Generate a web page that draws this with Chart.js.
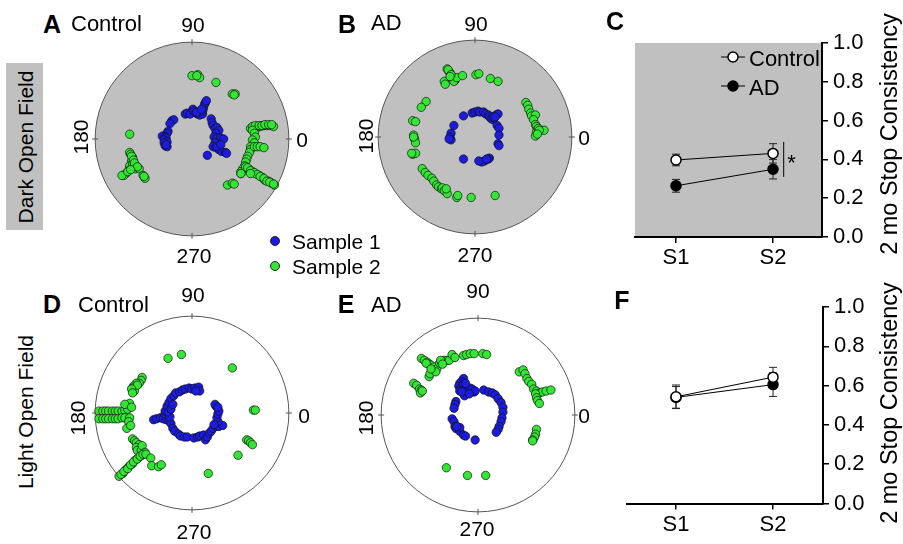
<!DOCTYPE html>
<html><head><meta charset="utf-8">
<script src="https://cdn.jsdelivr.net/npm/chart.js@4"></script>
<style>
body{margin:0;width:903px;height:544px;background:#fff;position:relative;overflow:hidden;font-family:"Liberation Sans",Arial,sans-serif;color:#000;}
canvas{position:absolute;}
.t{position:absolute;white-space:nowrap;line-height:1;transform:translate(-50%,-50%);}
.l{position:absolute;white-space:nowrap;line-height:1;transform:translate(0,-50%);}
.r{position:absolute;white-space:nowrap;line-height:1;transform:translate(-50%,-50%) rotate(-90deg);}
.b{font-weight:bold;font-size:25px;}
.a{font-size:21px;}
.dot{position:absolute;width:8px;height:8px;border-radius:50%;border:1px solid #222;transform:translate(-50%,-50%);}
</style>
</head><body>
<div style="position:absolute;left:6px;top:63px;width:37px;height:167px;background:#c0c0c0;"></div>
<canvas id="pA" width="240" height="240" style="left:72px;top:19px;width:240px;height:240px"></canvas>
<canvas id="pB" width="240" height="240" style="left:355px;top:17px;width:240px;height:240px"></canvas>
<canvas id="pD" width="240" height="240" style="left:72px;top:293px;width:240px;height:240px"></canvas>
<canvas id="pE" width="240" height="240" style="left:358px;top:295px;width:240px;height:240px"></canvas>
<canvas id="cC" width="303" height="270" style="left:600px;top:20px;width:303px;height:270px"></canvas>
<canvas id="cF" width="303" height="270" style="left:600px;top:285px;width:303px;height:270px"></canvas>

<div class="t b" style="left:52px;top:24px">A</div>
<div class="l" style="left:71px;top:24px;font-size:22px">Control</div>
<div class="t b" style="left:347px;top:24px">B</div>
<div class="l" style="left:371px;top:23px;font-size:22px">AD</div>
<div class="t b" style="left:615px;top:21px">C</div>
<div class="t b" style="left:52px;top:304px">D</div>
<div class="l" style="left:78px;top:305px;font-size:22px">Control</div>
<div class="t b" style="left:346px;top:304px">E</div>
<div class="l" style="left:371px;top:305px;font-size:22px">AD</div>
<div class="t b" style="left:622px;top:300px">F</div>

<div class="t a" style="left:193px;top:24px">90</div>
<div class="t a" style="left:302px;top:139px">0</div>
<div class="t a" style="left:194px;top:255px">270</div>
<div class="r a" style="left:80px;top:137px">180</div>
<div class="t a" style="left:476px;top:23px">90</div>
<div class="t a" style="left:584px;top:137px">0</div>
<div class="t a" style="left:475px;top:254px">270</div>
<div class="r a" style="left:365px;top:136px">180</div>
<div class="t a" style="left:193px;top:294px">90</div>
<div class="t a" style="left:304px;top:415px">0</div>
<div class="t a" style="left:194px;top:531px">270</div>
<div class="r a" style="left:77px;top:418px">180</div>
<div class="t a" style="left:478px;top:290px">90</div>
<div class="t a" style="left:584px;top:415px">0</div>
<div class="t a" style="left:477px;top:528px">270</div>
<div class="r a" style="left:365px;top:418px">180</div>

<div class="r a" style="left:25px;top:147px">Dark Open Field</div>
<div class="r a" style="left:25px;top:412px">Light Open Field</div>
<div class="r" style="left:890px;top:134px;font-size:23.5px">2 mo Stop Consistency</div>
<div class="r" style="left:890px;top:403px;font-size:23.5px">2 mo Stop Consistency</div>

<div class="dot" style="left:275px;top:241px;background:#1c1ce0"></div>
<div class="l a" style="left:292px;top:241px">Sample 1</div>
<div class="dot" style="left:275px;top:266px;background:#33e633"></div>
<div class="l a" style="left:292px;top:266px">Sample 2</div>

<script>
// ---------- DATA ----------
// Polar panels: points as [x, y] in units where the outer circle radius = R_MAX
const R_MAX = 101;
const angleLabels = ['0','90','180','270'];
const sampleNames = ['Sample 1','Sample 2'];

const A_sample1 = [[-21,19],[-19,20],[-23,16],[-25,8],[-26,6],[-29,3],[-31,3],[-28,2],[-27,1],[-29,-1],[-26,-3],[-29,-4],[-28,-7],[-26,-8],[-27,-6],
[-7,26],[-5,27],[-2,26],[1,31],[2,29],[4,27],[6,26],[8,25],[11,26],[11,29],[12,32],[13,36],[14,38],[15,40],[5,28],[10,31],
[20,21],[21,17],[22,14],[24,11],[26,12],[28,9],[25,6],[23,2],[26,1],[30,1],[33,0],[24,-4],[22,-8],[25,-9],[28,-11],[31,-13],[35,-14],[36,-15],[26,-8],[30,-6],[16,-17]];
const A_sample2 = [[0,66],[6,67],[8,64],[5,66],[25,59],[42,47],[45,47],[44,46],
[61,11],[65,12],[68,12],[71,13],[75,14],[78,14],[81,14],[85,13],[63,13],[66,14],[70,14],[73,14],[76,15],[80,15],[83,15],
[63,9],[65,6],[66,2],[63,-1],[65,-4],[61,-8],[61,-11],[60,-14],[58,-18],[57,-21],[56,-24],[55,-28],[53,-31],[51,-34],[51,-36],
[65,-8],[68,-8],[71,-8],[75,-9],
[56,-29],[60,-32],[63,-34],[66,-36],[70,-38],[73,-40],[76,-43],[80,-44],[83,-46],[86,-48],[58,-30],[61,-33],[65,-35],[68,-37],[71,-39],[75,-41],[78,-44],[81,-45],[85,-47],
[61,-36],[51,-36],[37,-48],[42,-46],[44,-47],
[-65,5],[-65,-14],[-64,-16],[-62,-19],[-63,-23],[-65,-28],[-62,-26],[-60,-29],[-59,-31],[-66,-33],[-69,-36],[-71,-38],[-73,-38],[-55,-31],[-58,-28],[-51,-38],[-49,-41],[-50,-39],
[-63,-18],[-61,-22],[-60,-25],[-57,-29],[-67,-34],[-64,-32]];

const B_sample1 = [[-12,22],[-3,25],[0,26],[3,27],[5,26],[9,26],[11,24],[14,23],[15,21],[17,19],[19,18],[20,20],[22,23],[24,24],[19,21],[21,21],
[23,12],[25,9],[25,2],[24,-7],[25,-9],[15,-22],[14,-23],[10,-25],[7,-26],[4,-25],[12,-23],[-12,-23],[-22,12],[-25,4],[-26,0],[-25,-3],[-27,-2]];
const B_sample2 = [[-29,71],[-27,68],[-26,67],[-25,64],[-24,62],[-23,60],[-21,59],[-20,61],[-22,58],[-32,58],[-31,55],[-19,62],[-13,64],[1,65],[4,66],[16,61],[24,58],[-28,70],[-25,65],[-26,63],
[-51,37],[-56,31],[-65,17],[-62,16],[-64,2],[-63,-2],[-62,-6],[-65,-18],[-62,-17],[-66,-17],[-64,0],
[-55,-33],[-52,-37],[-49,-40],[-45,-43],[-43,-46],[-40,-50],[-38,-52],[-35,-54],[-34,-53],[-32,-56],[-29,-59],[-30,-54],[-19,-63],[-18,-61],[-4,-63],[21,-61],
[53,36],[55,33],[56,29],[58,25],[59,22],[63,23],[61,18],[63,13],[64,11],[65,8],[69,7],[72,7],[64,5],[63,1],[66,9],[67,7],[65,3]];

const D_sample1 = [[-40,-7],[-37,-6],[-33,-5],[-30,-6],[-27,-7],[-28,-1],[-28,2],[-26,7],[-24,11],[-22,15],[-19,18],[-17,21],[-13,22],[-10,24],[-7,25],[-3,26],[0,25],[3,26],[7,27],[8,23],[4,23],
[-24,-8],[-22,-11],[-20,-16],[-18,-19],[-14,-22],[-12,-24],[-8,-25],[-5,-25],[2,-26],[6,-25],[8,-24],[12,-23],[14,-28],[16,-25],[18,-21],[20,-19],[22,-16],[25,-14],[28,-14],[32,-13],
[27,-9],[26,-5],[27,-1],[28,2],[25,7],[24,9],[27,6],[23,-12],[-23,-4],[-25,1],[-22,4],[-20,9]];
const D_sample2 = [[-25,57],[-11,61],[42,47],[64,3],[66,3],
[-52,37],[-53,34],[-55,31],[-58,31],[-61,28],[-62,26],[-60,23],[-57,29],[-63,25],[-62,21],
[-97,2],[-93,2],[-90,2],[-87,2],[-83,2],[-80,2],[-77,2],[-73,2],[-70,3],[-67,4],[-65,10],[-70,9],[-63,6],
[-97,-6],[-93,-6],[-90,-6],[-87,-6],[-83,-6],[-80,-6],[-77,-6],[-73,-5],[-70,-5],[-65,-5],[-66,-9],[-68,-16],[-64,-13],
[-62,-27],[-60,-29],[-58,-31],[-55,-33],[-58,-36],[-57,-39],[-53,-39],[-52,-34],
[-76,-66],[-72,-63],[-69,-59],[-66,-56],[-62,-53],[-59,-49],[-56,-47],[-52,-44],[-49,-41],[-74,-64],[-71,-61],[-67,-58],[-64,-54],[-61,-51],[-57,-48],[-54,-45],[-51,-43],
[-48,-43],[-43,-47],[-42,-55],[-35,-56],[-32,-54],
[17,-63],[48,-44],[57,-28],[59,-29],[61,-31],[63,-33]];

const E_sample1 = [[-15,38],[-17,35],[-19,33],[-20,30],[-18,28],[-15,32],[-13,27],[-12,23],[-14,20],[-11,25],[-8,28],[-6,27],[-4,24],[-3,25],[-19,25],[-17,24],[-9,22],[-13,33],
[-23,14],[-24,11],[-25,7],[-27,-4],[-25,-7],[-24,-12],[-23,-14],[-19,-17],[-15,-21],[-13,-22],[-3,-26],[-19,-13],[-22,-12],
[6,26],[11,24],[15,23],[18,21],[21,17],[24,13],[26,8],[26,3],[25,-3],[24,-7],[22,-12],[21,-15],[19,-18]];
const E_sample2 = [[-67,33],[-64,31],[-61,27],[-59,26],[-60,23],[-58,25],
[-59,59],[-56,57],[-53,55],[-51,53],[-49,52],[-46,50],[-43,48],[-51,40],[-50,43],[-44,45],[-40,54],[-38,55],[-35,57],[-32,57],[-30,57],[-27,63],[-24,60],[-15,62],[-12,63],[-8,64],[-4,64],[5,64],[9,63],
[-54,54],[-49,48],[-39,57],[-37,53],
[43,45],[47,47],[49,43],[51,38],[53,35],[56,32],[58,27],[61,25],[64,23],[67,24],[71,25],[76,26],[60,22],[61,18],[62,15],[64,12],
[61,-15],[60,-20],[59,-23],[57,-26],[57,-27],
[-33,-55],[-11,-63],[8,-63]];

// Line panels
const sessions = ['S1','S2'];
const groups = ['Control','AD'];
const C_control = [0.397, 0.431];
const C_controlErr = [0.03, 0.05];
const C_ad = [0.264, 0.349];
const C_adErr = [0.033, 0.05];
const F_control = [0.543, 0.643];
const F_controlErr = [0.06, 0.05];
const F_ad = [0.54, 0.605];
const F_adErr = [0.055, 0.06];
const yTicks = [0, 0.2, 0.4, 0.6, 0.8, 1.0];

// ---------- CHARTS ----------
Chart.defaults.font.family = '"Liberation Sans", Arial, sans-serif';
Chart.defaults.color = '#000';
const BLUE = '#1c1ce0', GREEN = '#33e633';

const circlePlugin = {
  id: 'circ',
  beforeDatasetsDraw(chart, args, opts) {
    const {ctx, scales: {x, y}} = chart;
    const cx = x.getPixelForValue(0), cy = y.getPixelForValue(0);
    const r = x.getPixelForValue(R_MAX) - cx;
    ctx.save();
    ctx.beginPath(); ctx.arc(cx, cy, r, 0, Math.PI * 2);
    ctx.fillStyle = opts.fill; ctx.fill();
    ctx.lineWidth = 1; ctx.strokeStyle = '#555'; ctx.stroke();
    angleLabels.forEach(a => {
      const t = (+a) * Math.PI / 180;
      ctx.beginPath();
      ctx.moveTo(cx + Math.cos(t) * (r - 3), cy - Math.sin(t) * (r - 3));
      ctx.lineTo(cx + Math.cos(t) * (r + 3), cy - Math.sin(t) * (r + 3));
      ctx.stroke();
    });
    ctx.restore();
  }
};

function makePolar(id, s1, s2, fill) {
  const pts = arr => arr.map(([x, y]) => ({x, y}));
  new Chart(document.getElementById(id), {
    type: 'scatter',
    data: {datasets: [
      {label: sampleNames[0], data: pts(s1), backgroundColor: BLUE, borderColor: '#111', borderWidth: 0.7, pointRadius: 4.2, clip: false},
      {label: sampleNames[1], data: pts(s2), backgroundColor: GREEN, borderColor: '#111', borderWidth: 0.7, pointRadius: 4.2, clip: false}
    ]},
    options: {
      animation: false, responsive: false, devicePixelRatio: 1,
      layout: {padding: 0},
      plugins: {legend: {display: false}, tooltip: {enabled: false}, circ: {fill}},
      scales: {
        x: {type: 'linear', min: -120, max: 120, display: false},
        y: {type: 'linear', min: -120, max: 120, display: false}
      }
    },
    plugins: [circlePlugin]
  });
}
makePolar('pA', A_sample1, A_sample2, '#c0c0c0');
makePolar('pB', B_sample1, B_sample2, '#c0c0c0');
makePolar('pD', D_sample1, D_sample2, '#ffffff');
makePolar('pE', E_sample1, E_sample2, '#ffffff');

const extrasPlugin = {
  id: 'extras',
  beforeDraw(chart, args, opts) {
    if (!opts.gray) return;
    const {ctx, chartArea: a} = chart;
    ctx.save(); ctx.fillStyle = '#c0c0c0';
    ctx.fillRect(a.left, a.top, a.right - a.left, a.bottom - a.top);
    ctx.restore();
  },
  beforeDatasetsDraw(chart) {
    const {ctx, scales: {x, y}} = chart;
    ctx.save(); ctx.strokeStyle = '#222'; ctx.lineWidth = 1;
    chart.data.datasets.forEach(ds => {
      ds.data.forEach((p, i) => {
        const e = ds.errors[i];
        const px = x.getPixelForValue(p.x);
        const y1 = y.getPixelForValue(p.y + e), y2 = y.getPixelForValue(p.y - e);
        ctx.beginPath();
        ctx.moveTo(px, y1); ctx.lineTo(px, y2);
        ctx.moveTo(px - 4, y1); ctx.lineTo(px + 4, y1);
        ctx.moveTo(px - 4, y2); ctx.lineTo(px + 4, y2);
        ctx.stroke();
      });
    });
    ctx.restore();
  },
  afterDatasetsDraw(chart, args, opts) {
    const {ctx, chartArea: a, scales: {x, y}} = chart;
    ctx.save();
    if (opts.legend) {
      chart.data.datasets.forEach((ds, i) => {
        const yy = a.top + 14 + i * 29;
        ctx.strokeStyle = '#000'; ctx.lineWidth = 1;
        ctx.beginPath(); ctx.moveTo(a.right - 101, yy); ctx.lineTo(a.right - 77, yy); ctx.stroke();
        ctx.beginPath(); ctx.arc(a.right - 89, yy, 5, 0, Math.PI * 2);
        ctx.fillStyle = ds.pointBackgroundColor; ctx.fill();
        ctx.lineWidth = 1.5; ctx.stroke();
        ctx.fillStyle = '#000'; ctx.font = '22px "Liberation Sans", Arial, sans-serif';
        ctx.textBaseline = 'middle'; ctx.textAlign = 'left';
        ctx.fillText(ds.label, a.right - 73, yy + 3);
      });
    }
    if (opts.sig) {
      const s = opts.sig;
      ctx.strokeStyle = '#000'; ctx.lineWidth = 1;
      const sx = x.getPixelForValue(s.x);
      ctx.beginPath(); ctx.moveTo(sx, y.getPixelForValue(s.y0)); ctx.lineTo(sx, y.getPixelForValue(s.y1)); ctx.stroke();
      ctx.fillStyle = '#000'; ctx.font = '22px "Liberation Sans", Arial, sans-serif';
      ctx.textAlign = 'center'; ctx.textBaseline = 'alphabetic';
      ctx.fillText('*', x.getPixelForValue(s.tx), y.getPixelForValue(s.ty) + 12.5);
    }
    ctx.restore();
  }
};

function makeLine(id, ctrl, ctrlErr, ad, adErr, cfg) {
  const xs = sessions.map((s, i) => i + 1);
  new Chart(document.getElementById(id), {
    type: 'line',
    data: {datasets: [
      {label: groups[0], data: xs.map((x, i) => ({x, y: ctrl[i]})), errors: ctrlErr, borderColor: '#000', borderWidth: 1,
       pointRadius: 5, pointBackgroundColor: '#fff', pointBorderColor: '#000', pointBorderWidth: 1.5, fill: false, tension: 0},
      {label: groups[1], data: xs.map((x, i) => ({x, y: ad[i]})), errors: adErr, borderColor: '#000', borderWidth: 1,
       pointRadius: 5, pointBackgroundColor: '#000', pointBorderColor: '#000', pointBorderWidth: 1.5, fill: false, tension: 0}
    ]},
    options: {
      animation: false, responsive: false, devicePixelRatio: 1,
      layout: {padding: {left: cfg.padLeft, top: cfg.padTop, right: 0, bottom: 0}},
      plugins: {legend: {display: false}, tooltip: {enabled: false}, extras: {gray: cfg.gray, legend: cfg.legend, sig: cfg.sig}},
      scales: {
        x: {type: 'linear', min: cfg.xMin, max: cfg.xMax,
            afterBuildTicks: s => { s.ticks = xs.map(v => ({value: v})); },
            afterFit: s => { s.height = cfg.xH; },
            ticks: {callback: v => sessions[Math.round(v) - 1], font: {size: 22}, color: '#000', padding: 2, maxRotation: 0, autoSkip: false},
            grid: {display: true, drawOnChartArea: false, drawTicks: true, tickLength: 6, color: '#000', lineWidth: 1.5},
            border: {display: true, color: '#000', width: 2}},
        y: {position: 'right', min: 0, max: 1,
            afterBuildTicks: s => { s.ticks = yTicks.map(v => ({value: v})); },
            afterFit: s => { s.width = cfg.yW; },
            ticks: {callback: v => v.toFixed(1), font: {size: 22}, color: '#000', padding: 5},
            grid: {display: true, drawOnChartArea: false, drawTicks: true, tickLength: 6, color: '#000', lineWidth: 1.5},
            border: {display: true, color: '#000', width: 2}}
      }
    },
    plugins: [extrasPlugin]
  });
}
makeLine('cC', C_control, C_controlErr, C_ad, C_adErr,
  {padLeft: 35, padTop: 23, xH: 53, yW: 81, xMin: 0.577, xMax: 2.505, gray: true, legend: true,
   sig: {x: 2.11, y0: 0.31, y1: 0.49, tx: 2.19, ty: 0.41}});
makeLine('cF', F_control, F_controlErr, F_ad, F_adErr,
  {padLeft: 27, padTop: 22, xH: 51.5, yW: 80, xMin: 0.495, xMax: 2.515, gray: false, legend: false, sig: null});
</script>
</body></html>
